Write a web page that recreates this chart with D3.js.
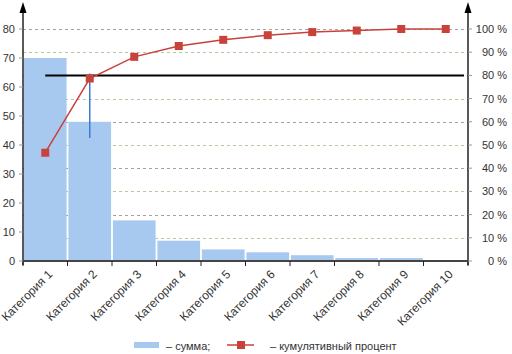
<!DOCTYPE html>
<html>
<head>
<meta charset="utf-8">
<script src="https://cdn.jsdelivr.net/npm/d3@7"></script>
<style>
  body { margin: 0; background: #fff; }
  text { font-family: "Liberation Sans", Arial, sans-serif; fill: #333; }
</style>
</head>
<body>
<div id="chart"></div>
<script>
var categories = ["Категория 1", "Категория 2", "Категория 3", "Категория 4", "Категория 5",
    "Категория 6", "Категория 7", "Категория 8", "Категория 9", "Категория 10"];
var sums = [70, 48, 14, 7, 4, 3, 2, 1, 1, 0];
var leftTicks = [0, 10, 20, 30, 40, 50, 60, 70, 80];
var rightTicks = [0, 10, 20, 30, 40, 50, 60, 70, 80, 90, 100];
var thresholdPct = 80;
var markerLowPct = 53;

var width = 512, height = 354;
var margin = {left: 23, right: 44, top: 29, bottom: 93};

var svg = d3.select("#chart").append("svg")
    .attr("width", width)
    .attr("height", height);

var total = d3.sum(sums);
var cum = 0;
var cumPct = sums.map(function (d) { cum += d; return cum / total * 100; });

var x = d3.scaleBand()
    .domain(categories)
    .range([margin.left, width - margin.right])
    .paddingInner(0.04).paddingOuter(0.02);
var xb = d3.scaleBand().domain(categories).range([margin.left, width - margin.right]);
var yL = d3.scaleLinear().domain([0, 80]).range([height - margin.bottom, margin.top]);
var yR = d3.scaleLinear().domain([0, 100]).range([height - margin.bottom, margin.top]);

var x0 = margin.left, x1 = width - margin.right, yBase = height - margin.bottom;

// grid
svg.append("g").selectAll("line")
    .data(rightTicks.slice(1))
    .enter().append("line")
    .attr("x1", x0).attr("x2", x1)
    .attr("y1", function (d) { return Math.round(yR(d)) + 0.5; })
    .attr("y2", function (d) { return Math.round(yR(d)) + 0.5; })
    .attr("stroke", function (d, i) { return i % 2 ? "#b09c9c" : "#b4c8a4"; })
    .attr("stroke-dasharray", "3,3");

// bars
svg.append("g").selectAll("rect")
    .data(sums)
    .enter().append("rect")
    .attr("x", function (d, i) { return x(categories[i]); })
    .attr("width", x.bandwidth())
    .attr("y", function (d) { return yL(d); })
    .attr("height", function (d) { return yBase - yL(d); })
    .attr("fill", "#a8c9ef");

// threshold line
var c = function (i) { return xb(categories[i]) + xb.bandwidth() / 2; };
svg.append("line")
    .attr("x1", c(0)).attr("x2", x1 - 4)
    .attr("y1", yR(thresholdPct)).attr("y2", yR(thresholdPct))
    .attr("stroke", "#000").attr("stroke-width", 2);
svg.append("line")
    .attr("x1", c(1)).attr("x2", c(1))
    .attr("y1", yR(thresholdPct) - 2).attr("y2", yR(markerLowPct))
    .attr("stroke", "#3b7dd0").attr("stroke-width", 1.5);

// cumulative line
var line = d3.line()
    .x(function (d, i) { return c(i); })
    .y(function (d) { return yR(d); });
svg.append("path")
    .datum(cumPct)
    .attr("d", line)
    .attr("fill", "none")
    .attr("stroke", "#c8413b")
    .attr("stroke-width", 1.5);
svg.append("g").selectAll("rect")
    .data(cumPct)
    .enter().append("rect")
    .attr("x", function (d, i) { return c(i) - 4; })
    .attr("y", function (d) { return yR(d) - 4; })
    .attr("width", 8).attr("height", 8)
    .attr("fill", "#c8413b");

// axes
function arrowAxis(xp) {
    svg.append("line")
        .attr("x1", xp).attr("x2", xp)
        .attr("y1", yBase + 4).attr("y2", 8)
        .attr("stroke", "#222").attr("stroke-width", 1.5);
    svg.append("path")
        .attr("d", "M" + (xp - 3.5) + ",13L" + xp + ",2L" + (xp + 3.5) + ",13Z")
        .attr("fill", "#000");
}
arrowAxis(x0);
arrowAxis(x1);

svg.append("line")
    .attr("x1", x0).attr("x2", x1)
    .attr("y1", yBase).attr("y2", yBase)
    .attr("stroke", "#444").attr("stroke-width", 2);

svg.append("g").selectAll("line")
    .data(categories.concat(["end"]))
    .enter().append("line")
    .attr("x1", function (d, i) { return x0 + i * xb.bandwidth(); })
    .attr("x2", function (d, i) { return x0 + i * xb.bandwidth(); })
    .attr("y1", yBase).attr("y2", yBase + 5)
    .attr("stroke", "#222");

// left ticks
svg.append("g").selectAll("line")
    .data(leftTicks)
    .enter().append("line")
    .attr("x1", x0 - 4).attr("x2", x0)
    .attr("y1", function (d) { return yL(d); })
    .attr("y2", function (d) { return yL(d); })
    .attr("stroke", "#999");
svg.append("g").selectAll("text")
    .data(leftTicks)
    .enter().append("text")
    .attr("x", 15)
    .attr("y", function (d) { return yL(d) + 4; })
    .attr("text-anchor", "end")
    .style("font-size", "11px")
    .text(function (d) { return d; });

// right ticks
svg.append("g").selectAll("line")
    .data(rightTicks)
    .enter().append("line")
    .attr("x1", x1).attr("x2", x1 + 4)
    .attr("y1", function (d) { return yR(d); })
    .attr("y2", function (d) { return yR(d); })
    .attr("stroke", "#999");
svg.append("g").selectAll("text")
    .data(rightTicks)
    .enter().append("text")
    .attr("x", 507)
    .attr("y", function (d) { return yR(d) + 4; })
    .attr("text-anchor", "end")
    .style("font-size", "11px")
    .text(function (d) { return d + " %"; });

// category labels
svg.append("g").selectAll("text")
    .data(categories)
    .enter().append("text")
    .attr("transform", function (d, i) {
        return "translate(" + (c(i) + 8) + "," + (yBase + 14) + ") rotate(-45)";
    })
    .attr("text-anchor", "end")
    .style("font-size", "12px")
    .text(function (d) { return d; });

// legend
var ly = 347;
svg.append("rect")
    .attr("x", 134).attr("y", ly - 5).attr("width", 25).attr("height", 6)
    .attr("fill", "#a8c9ef");
svg.append("text")
    .attr("x", 166).attr("y", ly + 3)
    .style("font-size", "11px")
    .text("– сумма;");
svg.append("line")
    .attr("x1", 227).attr("x2", 254).attr("y1", ly - 2).attr("y2", ly - 2)
    .attr("stroke", "#c8413b").attr("stroke-width", 1.5);
svg.append("rect")
    .attr("x", 237).attr("y", ly - 6).attr("width", 8).attr("height", 8)
    .attr("fill", "#c8413b");
svg.append("text")
    .attr("x", 270).attr("y", ly + 3)
    .style("font-size", "11px")
    .text("– кумулятивный процент");
</script>
</body>
</html>
